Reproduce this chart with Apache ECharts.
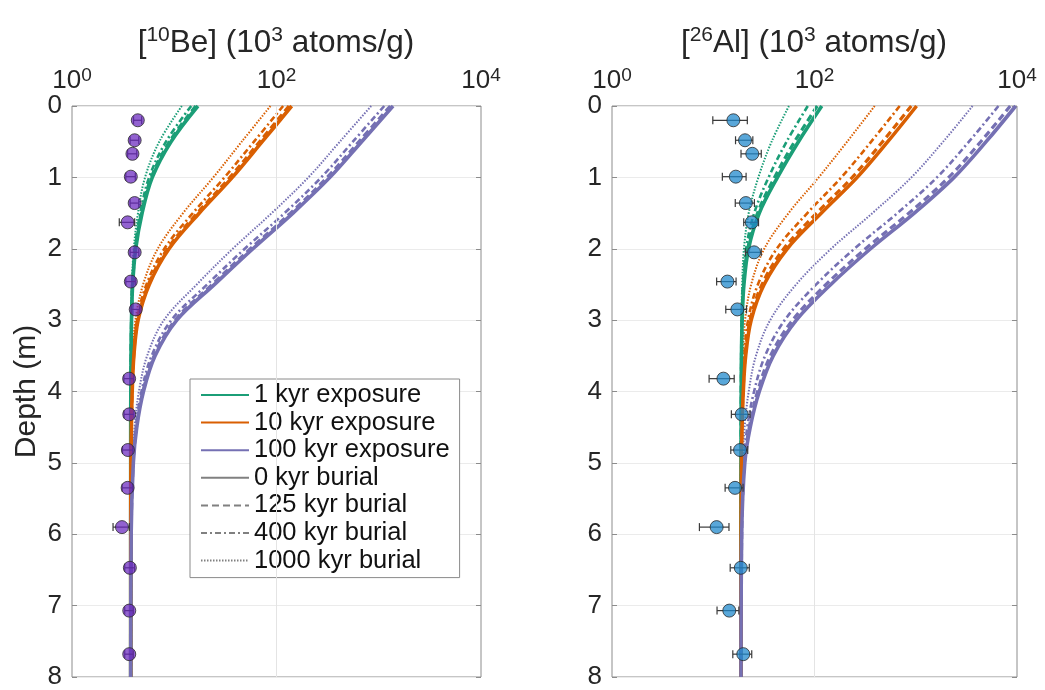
<!DOCTYPE html>
<html><head><meta charset="utf-8">
<script src="https://cdn.jsdelivr.net/npm/echarts@6/dist/echarts.min.js"></script>
<style>html,body{margin:0;padding:0;background:#fff}#c{width:1045px;height:690px}</style>
</head><body><div id="c"></div>
<script>
// ---- data (concentrations in 10^3 atoms/g, depth in m) ----
const depth = [0, 0.5, 1, 1.5, 2, 2.5, 3, 3.5, 4, 4.5, 5, 6, 8];

// 10Be model curves
const be1k_0    = [17.05, 9.3, 6.1, 4.85, 4.2, 3.92, 3.82, 3.78, 3.76, 3.75, 3.75, 3.75, 3.75];
const be1k_125  = [16.25, 8.97, 5.96, 4.78, 4.17, 3.91, 3.82, 3.78, 3.76, 3.75, 3.75, 3.75, 3.75];
const be1k_400  = [14.65, 8.3, 5.68, 4.65, 4.12, 3.89, 3.81, 3.77, 3.76, 3.75, 3.75, 3.75, 3.75];
const be1k_1000 = [11.86, 7.14, 5.18, 4.42, 4.02, 3.85, 3.79, 3.77, 3.76, 3.75, 3.75, 3.75, 3.75];
const be10k_0    = [140.8, 72.5, 37.0, 17.6, 8.9, 5.7, 4.43, 4.03, 3.88, 3.81, 3.77, 3.75, 3.75];
const be10k_125  = [132.5, 68.4, 35.0, 16.8, 8.6, 5.58, 4.39, 4.01, 3.87, 3.80, 3.77, 3.75, 3.75];
const be10k_400  = [116.1, 60.2, 31.0, 15.2, 8.0, 5.35, 4.31, 3.98, 3.85, 3.80, 3.77, 3.75, 3.75];
const be10k_1000 = [87.3, 45.7, 24.1, 12.2, 6.9, 4.96, 4.17, 3.92, 3.83, 3.79, 3.76, 3.75, 3.75];
const be100k_0    = [1380, 680, 333, 145, 58.8, 24.8, 10.6, 6.5, 5.0, 4.30, 3.98, 3.79, 3.75];
const be100k_125  = [1297, 639, 313, 137, 55.5, 23.5, 10.2, 6.34, 4.93, 4.27, 3.97, 3.79, 3.75];
const be100k_400  = [1132, 558, 274, 120, 48.9, 21.0, 9.37, 6.01, 4.78, 4.20, 3.94, 3.78, 3.75];
const be100k_1000 = [843, 416, 205, 89.8, 37.3, 16.6, 7.93, 5.43, 4.51, 4.09, 3.89, 3.77, 3.75];

// 26Al model curves
const al1k_0    = [118, 69.4, 43.1, 28.5, 22.3, 20.1, 19.3, 19.0, 18.9, 18.85, 18.8, 18.8, 18.8];
const al1k_125  = [106.5, 63.5, 40.3, 27.4, 21.9, 19.9, 19.2, 19.0, 18.9, 18.84, 18.8, 18.8, 18.8];
const al1k_400  = [85.8, 53.0, 35.2, 25.4, 21.1, 19.7, 19.1, 18.9, 18.87, 18.83, 18.8, 18.8, 18.8];
const al1k_1000 = [55.9, 37.7, 27.9, 22.4, 20.1, 19.3, 19.0, 18.9, 18.84, 18.8, 18.8, 18.8, 18.8];
const al10k_0    = [1019, 529, 264, 117, 53.8, 31.8, 23.7, 20.9, 19.8, 19.25, 18.98, 18.83, 18.8];
const al10k_125  = [903, 470, 236, 105, 49.7, 30.3, 23.1, 20.7, 19.7, 19.2, 18.96, 18.83, 18.8];
const al10k_400  = [694, 363, 184, 85.0, 42.4, 27.6, 22.1, 20.2, 19.5, 19.1, 18.92, 18.82, 18.8];
const al10k_1000 = [393, 210, 110, 55.5, 31.9, 23.7, 20.6, 19.6, 19.2, 18.97, 18.87, 18.81, 18.8];
const al100k_0    = [9700, 4956, 2391, 968, 358, 145, 66.2, 39.1, 28.5, 23.2, 20.5, 19.1, 18.8];
const al100k_125  = [8576, 4383, 2116, 858, 319, 130, 60.7, 36.7, 27.4, 22.7, 20.3, 19.1, 18.8];
const al100k_400  = [6553, 3351, 1620, 660, 248, 104, 50.8, 32.5, 25.3, 21.7, 20.0, 19.0, 18.8];
const al100k_1000 = [3639, 1865, 906, 374, 146, 65.9, 36.5, 26.4, 22.4, 20.4, 19.45, 18.9, 18.8];

// measured samples
const sampleDepth = [0.2, 0.48, 0.67, 0.99, 1.36, 1.63, 2.05, 2.46, 2.85, 3.82, 4.32, 4.82, 5.35, 5.9, 6.47, 7.07, 7.68];
const beConc = [4.4, 4.1, 3.9, 3.76, 4.1, 3.5, 4.1, 3.76, 4.2, 3.62, 3.63, 3.52, 3.5, 3.08, 3.68, 3.63, 3.63];
const beErr  = [0.4, 0.4, 0.4, 0.4, 0.4, 0.6, 0.4, 0.4, 0.4, 0.4, 0.4, 0.4, 0.4, 0.56, 0.4, 0.35, 0.35];
const alConc = [15.8, 20.6, 24.3, 16.7, 21.0, 24.0, 25.3, 13.8, 17.3, 12.6, 19.1, 18.4, 16.4, 10.8, 18.7, 14.4, 19.8];
const alErr  = [5.9, 4.0, 5.5, 4.4, 4.5, 4.0, 4.5, 3.0, 4.0, 3.5, 4.0, 3.5, 3.3, 3.5, 4.0, 3.5, 4.2];

const exposureNames = ['1 kyr exposure', '10 kyr exposure', '100 kyr exposure'];
const burialNames = ['0 kyr burial', '125 kyr burial', '400 kyr burial', '1000 kyr burial'];
const depthTicks = [0, 1, 2, 3, 4, 5, 6, 7, 8];

// ---- styling ----
const FONT = "'Liberation Sans', Arial, Helvetica, sans-serif";
const TXT = '#262626';
const expColors = ['#1b9e77', '#d95f02', '#7570b3'];
const burialStyles = [
  {type: 'solid', width: 3.6},
  {type: [7, 4], width: 3.2},
  {type: [6, 3, 2, 3], width: 2.6},
  {type: [1.5, 1.5], width: 2}
];
const beCurves = [
  [be1k_0, be1k_125, be1k_400, be1k_1000],
  [be10k_0, be10k_125, be10k_400, be10k_1000],
  [be100k_0, be100k_125, be100k_400, be100k_1000]
];
const alCurves = [
  [al1k_0, al1k_125, al1k_400, al1k_1000],
  [al10k_0, al10k_125, al10k_400, al10k_1000],
  [al100k_0, al100k_125, al100k_400, al100k_1000]
];

const grids = [
  {left: 72, top: 106, width: 409, height: 578},
  {left: 612, top: 106, width: 405, height: 578}
];

const series = [];
[beCurves, alCurves].forEach((curves, gi) => {
  for (let b = 3; b >= 0; b--) {
    curves.forEach((set, e) => {
      series.push({
        type: 'line', name: 'c' + gi + '_' + e + '_' + b,
        xAxisIndex: gi, yAxisIndex: gi * 2,
        data: set[b].map((v, i) => [v, depth[i]]),
        symbol: 'none', smooth: 0.35, silent: true, z: 2,
        lineStyle: {color: expColors[e], width: burialStyles[b].width, type: burialStyles[b].type}
      });
    });
  }
});

// vertical grid line at 10^2
[0, 1].forEach(gi => {
  series.push({
    type: 'line', xAxisIndex: gi, yAxisIndex: gi * 2, data: [], silent: true, z: 1,
    markLine: {silent: true, symbol: 'none', label: {show: false}, animation: false,
      lineStyle: {color: '#e4e4e4', type: 'solid', width: 1}, data: [{xAxis: 100}]}
  });
});

function errSeries(gi, conc, err) {
  return {
    type: 'custom', xAxisIndex: gi, yAxisIndex: gi * 2, z: 3, silent: true,
    data: conc.map((v, i) => [v, sampleDepth[i], err[i]]),
    encode: {x: 0, y: 1},
    renderItem: function (params, api) {
      const x = api.value(0), y = api.value(1), e = api.value(2);
      const p1 = api.coord([x - e, y]);
      const p2 = api.coord([x + e, y]);
      const h = 4;
      const st = {stroke: '#3a3a3a', lineWidth: 1.2};
      return {type: 'group', children: [
        {type: 'line', shape: {x1: p1[0], y1: p1[1], x2: p2[0], y2: p2[1]}, style: st},
        {type: 'line', shape: {x1: p1[0], y1: p1[1] - h, x2: p1[0], y2: p1[1] + h}, style: st},
        {type: 'line', shape: {x1: p2[0], y1: p2[1] - h, x2: p2[0], y2: p2[1] + h}, style: st}
      ]};
    }
  };
}
series.push(errSeries(0, beConc, beErr));
series.push(errSeries(1, alConc, alErr));
series.push({
  type: 'scatter', xAxisIndex: 0, yAxisIndex: 0, z: 4, silent: true, symbolSize: 13,
  data: beConc.map((v, i) => [v, sampleDepth[i]]),
  itemStyle: {color: 'rgba(104,38,190,0.9)', borderColor: '#2a2a2a', borderWidth: 1}
});
series.push({
  type: 'scatter', xAxisIndex: 1, yAxisIndex: 2, z: 4, silent: true, symbolSize: 13,
  data: alConc.map((v, i) => [v, sampleDepth[i]]),
  itemStyle: {color: 'rgba(30,136,204,0.92)', borderColor: '#2a2a2a', borderWidth: 1}
});

// legend-only series
exposureNames.forEach((n, e) => series.push({
  type: 'line', name: n, xAxisIndex: 0, yAxisIndex: 0, data: [], symbol: 'none',
  lineStyle: {color: expColors[e], width: 3, type: 'solid'}, itemStyle: {color: expColors[e], opacity: 0}
}));
burialNames.forEach((n, b) => series.push({
  type: 'line', name: n, xAxisIndex: 0, yAxisIndex: 0, data: [], symbol: 'none',
  lineStyle: {color: '#808080', width: b === 3 ? 2 : 2.8, type: burialStyles[b].type}, itemStyle: {color: '#808080', opacity: 0}
}));

const xAxes = grids.map((g, gi) => ({
  type: 'log', logBase: 10, gridIndex: gi, min: 1, max: 10000, position: 'top',
  axisLine: {show: false}, axisTick: {show: false}, splitLine: {show: false},
  axisLabel: {
    margin: 10, fontSize: 26, lineHeight: 30, color: TXT, fontFamily: FONT,
    formatter: function (v) {
      const e = Math.round(Math.log10(v));
      return e % 2 === 0 ? '10{sup|' + e + '}' : '';
    },
    rich: {sup: {fontSize: 19, lineHeight: 19, verticalAlign: 'top', color: TXT, fontFamily: FONT}}
  }
}));

const yAxes = [];
grids.forEach((g, gi) => {
  yAxes.push({
    type: 'value', gridIndex: gi, inverse: true, min: depthTicks[0], max: depthTicks[depthTicks.length - 1], interval: 1,
    position: 'left',
    name: gi === 0 ? 'Depth (m)' : '', nameLocation: 'middle', nameGap: 30, nameRotate: 90,
    nameTextStyle: {fontSize: 30, color: TXT, fontFamily: FONT},
    axisLine: {show: false},
    axisTick: {show: true, inside: true, length: 5, lineStyle: {color: '#8c8c8c'}},
    axisLabel: {margin: 10, fontSize: 26, color: TXT, fontFamily: FONT},
    splitLine: {show: true, lineStyle: {color: '#ebebeb', width: 1}}
  });
  yAxes.push({
    type: 'value', gridIndex: gi, inverse: true, min: 0, max: 8, interval: 1, position: 'right',
    axisLine: {show: false},
    axisTick: {show: true, inside: true, length: 5, lineStyle: {color: '#8c8c8c'}},
    axisLabel: {show: false}, splitLine: {show: false}
  });
});

const titleStyle = {
  fontSize: 31.5, fontWeight: 'normal', color: TXT, fontFamily: FONT, lineHeight: 37,
  rich: {sup: {fontSize: 21, lineHeight: 21, verticalAlign: 'top', color: TXT, fontFamily: FONT}}
};

const option = {
  animation: false,
  backgroundColor: '#ffffff',
  title: [
    {text: '[{sup|10}Be] (10{sup|3} atoms/g)', left: 276, top: 25, textAlign: 'center', padding: 0, textStyle: titleStyle},
    {text: '[{sup|26}Al] (10{sup|3} atoms/g)', left: 814, top: 25, textAlign: 'center', padding: 0, textStyle: titleStyle}
  ],
  legend: {
    show: true, orient: 'vertical', left: 190, top: 379,
    data: exposureNames.concat(burialNames),
    itemWidth: 48, itemHeight: 14, itemGap: 1.6,
    padding: [3, 10, 4, 10],
    itemStyle: {opacity: 0},
    backgroundColor: '#ffffff', borderColor: '#8a8a8a', borderWidth: 1,
    textStyle: {fontSize: 25.5, lineHeight: 26, color: '#111', fontFamily: FONT},
    selectedMode: false
  },
  grid: grids.map(g => Object.assign({show: true, borderColor: '#8c8c8c', borderWidth: 1, backgroundColor: 'transparent', containLabel: false}, g)),
  xAxis: xAxes,
  yAxis: yAxes,
  series: series
};

const chart = echarts.init(document.getElementById('c'), null, {renderer: 'canvas'});
chart.setOption(option);
</script>
</body></html>
